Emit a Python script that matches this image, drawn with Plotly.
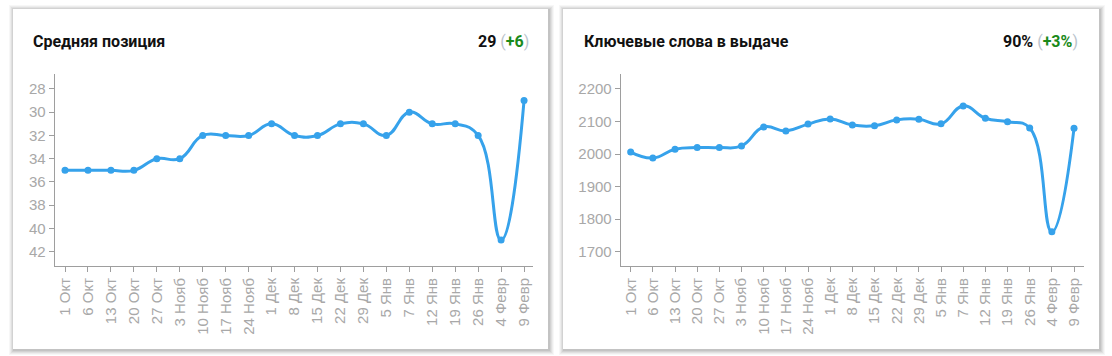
import plotly.graph_objects as go

dates = ["1 Окт", "6 Окт", "13 Окт", "20 Окт", "27 Окт", "3 Нояб", "10 Нояб", "17 Нояб",
         "24 Нояб", "1 Дек", "8 Дек", "15 Дек", "22 Дек", "29 Дек", "5 Янв", "7 Янв",
         "12 Янв", "19 Янв", "26 Янв", "4 Февр", "9 Февр"]
positions = [35, 35, 35, 35, 34, 34, 32, 32, 32, 31, 32, 32, 31, 31, 32, 30, 31, 31, 32, 41, 29]
keywords = [2006, 1988, 2015, 2020, 2020, 2025, 2083, 2071, 2092, 2108, 2089, 2087, 2105, 2107,
            2093, 2148, 2110, 2099, 2080, 1761, 2079]
pos_ticks = [28, 30, 32, 34, 36, 38, 40, 42]
kw_ticks = [1700, 1800, 1900, 2000, 2100, 2200]

W, H = 1112, 356
BLUE = "#36a2eb"
GRAY = "#a8a8a8"
AXIS = "#9e9e9e"

fig = go.Figure()
for data, xa, ya in [(positions, "x", "y"), (keywords, "x2", "y2")]:
    fig.add_trace(go.Scatter(
        x=dates, y=data, xaxis=xa, yaxis=ya, mode="lines+markers",
        line=dict(color=BLUE, width=3, shape="spline", smoothing=1.3),
        marker=dict(color=BLUE, size=7), hoverinfo="x+y", showlegend=False))

def px(x):
    return x / W

def py(y):
    return (H - y) / H

xcommon = dict(type="category", showline=True, linecolor=AXIS, linewidth=1, ticks="outside",
               ticklen=5, tickcolor=AXIS, showgrid=False, zeroline=False, tickangle=-90,
               tickfont=dict(family="Liberation Sans, Arial", size=15, color=GRAY), fixedrange=True)
ycommon = dict(showline=True, linecolor=AXIS, linewidth=1, ticks="outside", ticklen=5,
               tickcolor=AXIS, showgrid=False, zeroline=False,
               tickfont=dict(family="Liberation Sans, Arial", size=15, color=GRAY), fixedrange=True)

fig.update_layout(
    width=W, height=H, margin=dict(l=0, r=0, t=0, b=0),
    paper_bgcolor="white", plot_bgcolor="rgba(0,0,0,0)",
    xaxis=dict(domain=[px(54.7), px(533)], range=[-0.45, 20.39], anchor="y", **xcommon),
    yaxis=dict(domain=[py(266), py(74)], range=[43.23, 26.71], tickvals=pos_ticks,
               anchor="x", **ycommon),
    xaxis2=dict(domain=[px(620.7), px(1084)], range=[-0.45, 20.45], anchor="y2", **xcommon),
    yaxis2=dict(domain=[py(266), py(74)], range=[1656, 2246], tickvals=kw_ticks,
                anchor="x2", **ycommon),
)

shapes = []
for (x0, x1) in [(13, 548), (563, 1099)]:
    y0, y1 = 9, 349
    for i, op in enumerate([0.03, 0.04, 0.05, 0.06, 0.07]):
        d = 5 - i
        shapes.append(dict(type="rect", xref="paper", yref="paper", layer="below",
                           x0=px(x0 - d + 1), x1=px(x1 + d + 1), y0=py(y1 + d + 1), y1=py(y0 - d + 1),
                           fillcolor=f"rgba(0,0,0,{op})", line=dict(width=0)))
    shapes.append(dict(type="rect", xref="paper", yref="paper", layer="below",
                       x0=px(x0), x1=px(x1), y0=py(y1), y1=py(y0),
                       fillcolor="white", line=dict(width=0)))
fig.update_layout(shapes=shapes)

TF = "Roboto, Arial"
ann = [
    dict(text="<b>Средняя позиция</b>", x=px(31), y=py(41), xanchor="left"),
    dict(text="<b>29</b> <span style='color:#b9c3cc'>(</span><b><span style='color:#1a8a1a'>+6</span></b><span style='color:#b9c3cc'>)</span>",
         x=px(531), y=py(41), xanchor="right"),
    dict(text="<b>Ключевые слова в выдаче</b>", x=px(582), y=py(41), xanchor="left"),
    dict(text="<b>90%</b> <span style='color:#b9c3cc'>(</span><b><span style='color:#1a8a1a'>+3%</span></b><span style='color:#b9c3cc'>)</span>",
         x=px(1080), y=py(41), xanchor="right"),
]
for a in ann:
    a.update(xref="paper", yref="paper", yanchor="middle", showarrow=False,
             font=dict(family=TF, size=16, color="#111111"))
fig.update_layout(annotations=ann)

fig.write_html("out.html")
